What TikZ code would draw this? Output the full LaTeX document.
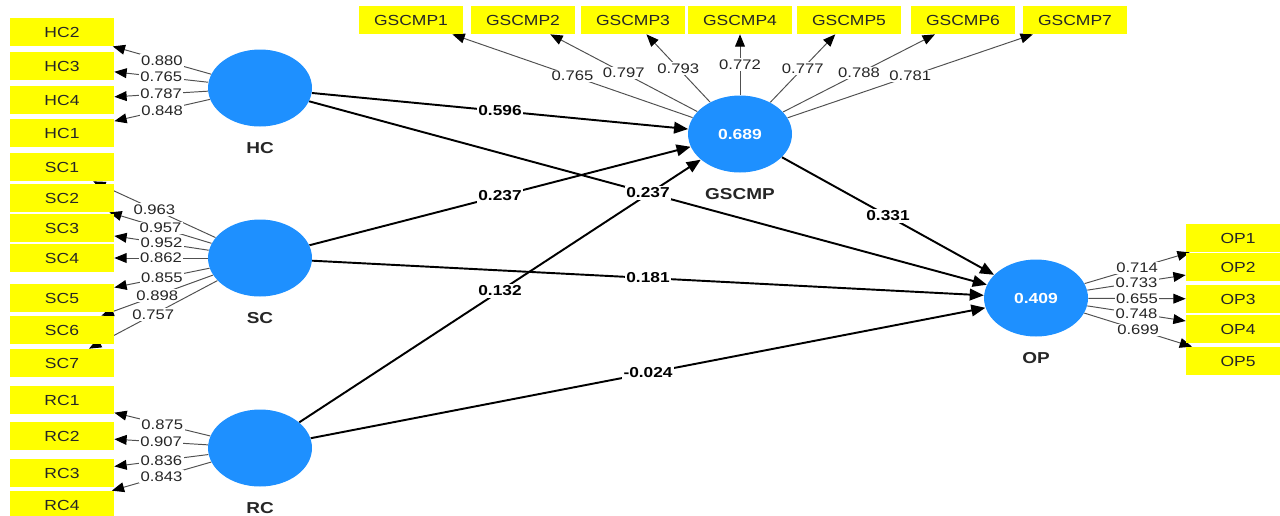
\documentclass[tikz,border=0pt]{standalone}
\usepackage{fontspec}
\setmainfont{Liberation Sans}[FakeStretch=1.2]
\usepackage{tikz}
\usetikzlibrary{arrows.meta,positioning,shapes.geometric}
\definecolor{plsBlue}{HTML}{1E90FF}
\definecolor{plsYellow}{HTML}{FFFF00}
\definecolor{plsLine}{HTML}{505050}
\definecolor{plsText}{HTML}{262626}
\pgfdeclarelayer{edges}
\pgfsetlayers{edges,main}
\tikzset{
  latent/.style={
    ellipse,
    fill=plsBlue,
    draw=none,
    minimum width=2.08cm,
    minimum height=1.54cm,
    inner sep=0pt,
    text=white,
    font=\fontsize{8.3}{10}\selectfont\bfseries
  },
  indicator/.style={
    rectangle,
    fill=plsYellow,
    draw=none,
    minimum width=2.08cm,
    minimum height=0.56cm,
    inner sep=0pt,
    text=plsText,
    font=\fontsize{8.3}{10}\selectfont
  },
  lvname/.style={inner sep=0pt, text=plsText, font=\fontsize{9}{11}\selectfont\bfseries},
  loading/.style={-{Triangle[length=7pt,width=5.6pt,color=black]}, draw=plsLine, line width=0.55pt},
  structural/.style={-{Triangle[length=8pt,width=6.6pt]}, draw=black, line width=1.1pt},
  lval/.style={fill=white, inner sep=0.8pt, text=plsText, font=\fontsize{7.9}{9}\selectfont},
  pval/.style={fill=white, inner sep=0.8pt, text=black, font=\fontsize{8.2}{10}\selectfont\bfseries}
}

\begin{document}
\begin{tikzpicture}[x=0.02cm, y=-0.02cm]
  \useasboundingbox (0,0) rectangle (1280,515);
  \clip (0,0) rectangle (1280,515);

  % latent variables
  \node[latent] (HC) at (260,88) {};
  \node[latent] (SC) at (260,258) {};
  \node[latent] (RC) at (260,448) {};
  \node[latent] (GSCMP) at (740,134) {0.689};
  \node[latent] (OP) at (1036,298) {0.409};
  \node[lvname, below=0.3cm of HC] (HCname) {HC};
  \node[lvname, below=0.3cm of SC] (SCname) {SC};
  \node[lvname, below=0.3cm of RC] (RCname) {RC};
  \node[lvname, below=0.3cm of GSCMP] (GSCMPname) {GSCMP};
  \node[lvname, below=0.3cm of OP] (OPname) {OP};

  % indicators
  \foreach \i/\y in {2/32,3/66,4/100,1/133}
    \node[indicator] (HC\i) at (62,\y) {HC\i};
  \foreach \i/\y in {1/167,2/198,3/228,4/258,5/298,6/330,7/363}
    \node[indicator] (SC\i) at (62,\y) {SC\i};
  \foreach \i/\y in {1/400,2/436,3/473,4/505}
    \node[indicator] (RC\i) at (62,\y) {RC\i};
  \foreach \i/\x in {1/411,2/523,3/633,4/740,5/849,6/963,7/1075}
    \node[indicator] (GSCMP\i) at (\x,20) {GSCMP\i};
  \foreach \i/\y in {1/238,2/267,3/299,4/329,5/361}
    \node[indicator] (OP\i) at (1238,\y) {OP\i};

  \begin{pgfonlayer}{edges}
    % outer loadings
    \foreach \i/\v in {2/0.880,3/0.765,4/0.787,1/0.848}
      \draw[loading] (HC) -- node[lval] {\v} (HC\i);
    \foreach \i/\v in {1/0.963,2/0.957,3/0.952,4/0.862,5/0.855,6/0.898,7/0.757}
      \draw[loading] (SC) -- node[lval] {\v} (SC\i);
    \foreach \i/\v in {1/0.875,2/0.907,3/0.836,4/0.843}
      \draw[loading] (RC) -- node[lval] {\v} (RC\i);
    \foreach \i/\v in {1/0.765,2/0.797,3/0.793,4/0.772,5/0.777,6/0.788,7/0.781}
      \draw[loading] (GSCMP) -- node[lval] {\v} (GSCMP\i);
    \foreach \i/\v in {1/0.714,2/0.733,3/0.655,4/0.748,5/0.699}
      \draw[loading] (OP) -- node[lval] {\v} (OP\i);

    % path coefficients
    \draw[structural] (HC) -- node[pval] {0.596} (GSCMP);
    \draw[structural] (RC) -- node[pval] {0.132} (GSCMP);
    \draw[structural] (SC) -- node[pval] {0.237} (GSCMP);
    \draw[structural] (HC) -- node[pval] {0.237} (OP);
    \draw[structural] (SC) -- node[pval] {0.181} (OP);
    \draw[structural] (RC) -- node[pval] {-0.024} (OP);
    \draw[structural] (GSCMP) -- node[pval] {0.331} (OP);
  \end{pgfonlayer}
\end{tikzpicture}
\end{document}
